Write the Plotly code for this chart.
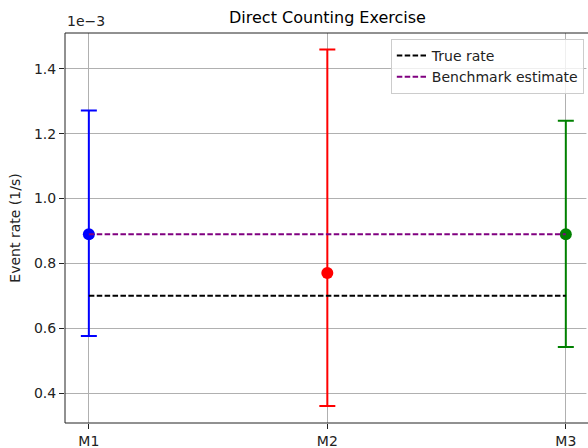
import plotly.graph_objects as go

# Data (event rates in units of 1e-3 1/s)
models = ["M1", "M2", "M3"]
rates = [0.89, 0.77, 0.89]
upper = [1.272, 1.460, 1.240]
lower = [0.576, 0.360, 0.542]
colors = ["blue", "red", "green"]
true_rate = 0.70
benchmark = 0.89
y_ticks = [0.4, 0.6, 0.8, 1.0, 1.2, 1.4]

FONT = "DejaVu Sans"
fig = go.Figure()
xs = list(range(len(models)))
for i, (m, r, u, lo, c) in enumerate(zip(models, rates, upper, lower, colors)):
    fig.add_trace(go.Scatter(
        x=[xs[i]], y=[r], mode="markers", showlegend=False,
        marker=dict(color=c, size=12),
        error_y=dict(type="data", symmetric=False, array=[u - r], arrayminus=[r - lo],
                     color=c, thickness=2, width=8),
    ))
fig.add_trace(go.Scatter(x=[xs[0], xs[-1]], y=[true_rate, true_rate], mode="lines", name="True rate",
                         line=dict(color="black", width=2, dash="5.5px,2.4px")))
fig.add_trace(go.Scatter(x=[xs[0], xs[-1]], y=[benchmark, benchmark], mode="lines", name="Benchmark estimate",
                         line=dict(color="purple", width=2, dash="5.5px,2.4px")))
axis_common = dict(showgrid=True, gridcolor="#b0b0b0", gridwidth=1, ticks="outside", ticklen=5, tickwidth=1,
                   tickcolor="#222", showline=False, zeroline=False, automargin=False,
                   tickfont=dict(family=FONT, size=14, color="#222"))
fig.update_xaxes(range=[-0.1, 2.093], tickvals=xs, ticktext=models, **axis_common)
fig.update_yaxes(range=[0.3074, 1.511], tickvals=y_ticks, tickformat=".1f",
                 title=dict(text="Event rate (1/s)", font=dict(family=FONT, size=14, color="#222"), standoff=10),
                 **axis_common)
# white strip at the cropped right edge
fig.add_shape(type="rect", xref="paper", yref="paper", x0=0.997, x1=1.01, y0=0.002, y1=0.998,
              fillcolor="white", line=dict(width=0), layer="above")
for (x0, y0, x1, y1) in [(0, 0, 0, 1), (0, 1, 1, 1), (0, 0, 1, 0)]:
    fig.add_shape(type="line", xref="paper", yref="paper", x0=x0, x1=x1, y0=y0, y1=y1,
                  line=dict(color="#222", width=1))
fig.add_annotation(text="1e\u22123", xref="paper", yref="paper", x=0, y=1, xanchor="left", yanchor="bottom",
                   showarrow=False, yshift=2, font=dict(family=FONT, size=14, color="#222"))
fig.update_layout(
    width=588, height=448, margin=dict(l=65, r=0, t=33, b=25, autoexpand=False),
    paper_bgcolor="white", plot_bgcolor="white", font=dict(family=FONT, color="#222"),
    title=dict(text="Direct Counting Exercise", x=327.5 / 588, xanchor="center", y=1 - 17 / 448,
               yanchor="middle", font=dict(family=FONT, size=16, color="black")),
    legend=dict(x=0.992, y=0.985, xanchor="right", yanchor="top", bgcolor="rgba(255,255,255,0.8)",
                bordercolor="#cccccc", borderwidth=1, font=dict(family=FONT, size=14, color="#222"),
                tracegroupgap=0, itemwidth=30),
)
fig.write_html("out.html")
